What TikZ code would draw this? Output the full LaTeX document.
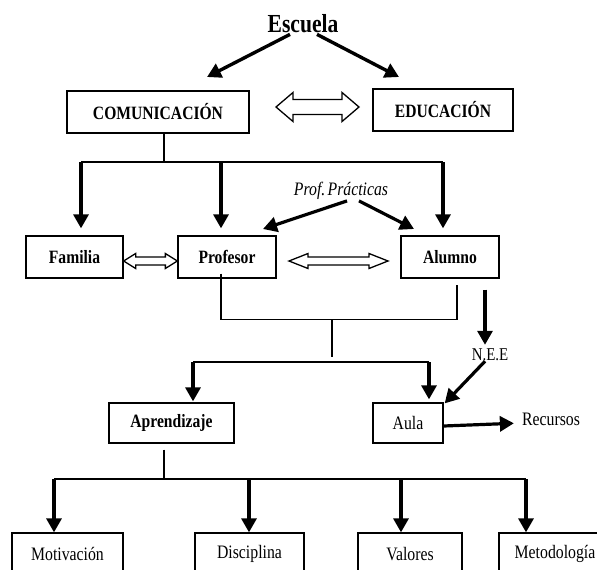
\documentclass[tikz,border=0pt]{standalone}
\usepackage{fontspec}
\setmainfont{Liberation Serif}[FakeStretch=0.83]
\usepackage{tikz}
\usetikzlibrary{arrows.meta}
\usetikzlibrary{calc}

% hollow two-headed arrow: from, to, head length, head half width, shaft half width
\newcommand{\hollowarrow}[5]{%
  \draw[hollow] let \p1=(#1), \p2=(#2) in
    (\x1,\y1) -- ++(#3pt,#4pt) -- ++(0pt,-#4pt+#5pt) -- (\x2-#3pt,\y1+#5pt)
    -- ++(0pt,#4pt-#5pt) -- (\x2,\y1) -- ++(-#3pt,-#4pt) -- ++(0pt,#4pt-#5pt)
    -- (\x1+#3pt,\y1-#5pt) -- ++(0pt,-#4pt+#5pt) -- cycle;
}

\begin{document}
\begin{tikzpicture}[x=1pt, y=-1pt,
        box/.style={rectangle, draw=black, line width=1.3pt, minimum height=42pt, inner sep=0pt},
        bbox/.style={box, font=\fontsize{18.8}{20}\selectfont\bfseries},
        rbox/.style={box, font=\fontsize{19}{21}\selectfont},
        label/.style={inner sep=1pt, font=\fontsize{19}{21}\selectfont},
        arr/.style={line width=3.2pt, -{Triangle[length=14pt, width=15pt]}},
        thinline/.style={line width=1.2pt},
        hollow/.style={draw=black, fill=white, line width=1.3pt, line join=miter}
      ]
        \useasboundingbox (0,0) rectangle (597,570);
        \clip (0,0) rectangle (597,570);

        % top level
        \node[label, font=\fontsize{26}{30}\selectfont\bfseries] (escuela) at (303,24) {Escuela};
        \node[bbox, minimum width=182pt, minimum height=42pt] (comu)  at (158,112) {COMUNICACIÓN};
        \node[bbox, minimum width=140pt, minimum height=42pt] (edu)   at (443,110) {EDUCACIÓN};

        \coordinate (comu-in) at (207,77);
        \coordinate (edu-in)  at (399,77);
        \draw[arr, line width=3.4pt] ([xshift=-13pt]escuela.south) -- (comu-in);
        \draw[arr, line width=3.4pt] ([xshift=14pt]escuela.south)  -- (edu-in);

        \coordinate (ce1) at (276,107);
        \coordinate (ce2) at (359,107);
        \hollowarrow{ce1}{ce2}{17}{14.5}{7.5}

        % second level
        \node[bbox, minimum width=97pt] (fam)   at (74.5,257) {Familia};
        \node[bbox, minimum width=98pt] (prof)  at (227,257)  {Profesor};
        \node[bbox, minimum width=98pt] (alum)  at (450,257)  {Alumno};
        \node[label, font=\fontsize{19}{21}\selectfont\itshape] (pp) at (341,191) {Prof.\hspace{0.12em}Prácticas};

        \draw[thinline] ([xshift=6pt]comu.south) -- ++(0,29) coordinate (bar-mid);
        \coordinate (bar-fam)  at (81,162);
        \coordinate (bar-prof) at (221,162);
        \coordinate (bar-alum) at (443,162);
        \draw[thinline] (bar-fam) -- (bar-alum);
        \draw[arr, shorten >=7pt] (bar-fam)  -- (bar-fam |- fam.north);
        \draw[arr, shorten >=7pt] (bar-prof) -- (bar-prof |- prof.north);
        \draw[arr, shorten >=7pt] (bar-alum) -- (bar-alum |- alum.north);

        \coordinate (pp-prof) at (263,229);
        \coordinate (pp-alum) at (414,229);
        \draw[arr] ([xshift=6pt]pp.south)  -- (pp-prof);
        \draw[arr] ([xshift=18pt]pp.south) -- (pp-alum);

        \coordinate (fp1) at ([yshift=-4pt]fam.east);
        \coordinate (fp2) at ([yshift=-4pt]prof.west);
        \hollowarrow{fp1}{fp2}{12}{7.5}{4}
        \coordinate (pa1) at (289,261);
        \coordinate (pa2) at (388,261);
        \hollowarrow{pa1}{pa2}{19}{7.5}{4}

        % third level
        \node[bbox, minimum width=125pt, minimum height=40pt] (aprend) at (171.5,423) {Aprendizaje};
        \node[rbox, minimum width=70pt,  minimum height=40pt] (aula)   at (408,423)   {Aula};
        \node[label, font=\fontsize{18}{20}\selectfont] (nee) at (490,355) {N.E.E};
        \node[label] (rec) at (551,419) {Recursos};

        \coordinate (prof-out) at ([xshift=-6pt,yshift=5pt]prof.south);
        \coordinate (alum-out) at ([xshift=7pt,yshift=-6pt]alum.south);
        \draw[thinline] (prof-out) -- ++(0,46) -| (alum-out);
        \coordinate (join-top) at (332,319);
        \draw[thinline] (join-top) -- ++(0,38);

        \coordinate (bar-aprend) at (193,362);
        \coordinate (bar-aula)   at (429,362);
        \draw[thinline] (bar-aprend) -- (bar-aula);
        \draw[arr, shorten >=1pt] (bar-aprend) -- (bar-aprend |- aprend.north);
        \draw[arr, shorten >=3pt] (bar-aula)   -- (bar-aula |- aula.north);

        \coordinate (alum-nee) at ([xshift=35pt,yshift=-11pt]alum.south);
        \draw[arr, shorten >=3pt] (alum-nee) -- (alum-nee |- nee.north);
        \draw[arr] ([xshift=-5pt,yshift=1pt]nee.south) -- ([xshift=1pt,yshift=-1pt]aula.north east);
        \draw[arr, shorten >=7pt] ([yshift=-3pt]aula.east) -- ([yshift=-4pt]rec.west);

        % bottom level
        \node[rbox, minimum width=111pt] (motiv)  at (67.5,554) {Motivación};
        \node[rbox, minimum width=109pt] (disc)   at (249.5,554) {Disciplina};
        \node[rbox, minimum width=104pt] (valor)  at (410,554)   {Valores};
        \node[rbox, minimum width=112pt] (metod)  at (555,554)   {Metodología};

        \draw[thinline] ([xshift=-7.5pt,yshift=-6pt]aprend.south) -- ++(0,30) coordinate (bar2-mid);
        \coordinate (bar-motiv) at (54,479);
        \coordinate (bar-disc)  at (249,479);
        \coordinate (bar-valor) at (401,479);
        \coordinate (bar-metod) at (526,479);
        \draw[thinline] (bar-motiv) -- (bar-metod);
        \draw[arr] (bar-motiv) -- (bar-motiv |- motiv.north);
        \draw[arr] (bar-disc)  -- (bar-disc |- disc.north);
        \draw[arr] (bar-valor) -- (bar-valor |- valor.north);
        \draw[arr] (bar-metod) -- (bar-metod |- metod.north);
      \end{tikzpicture}
\end{document}
